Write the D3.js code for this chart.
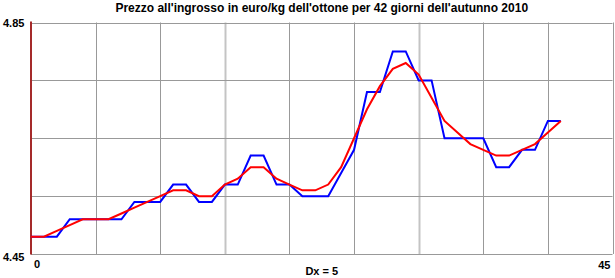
<!DOCTYPE html>
<html>
<head>
<meta charset="utf-8">
<script src="https://cdn.jsdelivr.net/npm/d3@7"></script>
<style>
  body { margin: 0; background: #fff; }
  text { font-family: "Liberation Sans", Arial, sans-serif; font-weight: bold; fill: #000; }
</style>
</head>
<body>
<div id="chart"></div>
<script>
// giorni 0..41
var days = d3.range(0, 42);

// prezzo giornaliero (blu)
var prezzo = [4.48, 4.48, 4.48, 4.51, 4.51, 4.51, 4.51, 4.51, 4.54, 4.54,
    4.54, 4.57, 4.57, 4.54, 4.54, 4.57, 4.57, 4.62, 4.62, 4.57,
    4.57, 4.55, 4.55, 4.55, 4.59, 4.63, 4.73, 4.73, 4.80, 4.80,
    4.75, 4.75, 4.65, 4.65, 4.65, 4.65, 4.60, 4.60, 4.63, 4.63,
    4.68, 4.68];

// media mobile (rosso)
var media = [4.48, 4.48, 4.49, 4.50, 4.51, 4.51, 4.51, 4.52, 4.53, 4.54,
    4.55, 4.56, 4.56, 4.55, 4.55, 4.57, 4.58, 4.60, 4.60, 4.58,
    4.57, 4.56, 4.56, 4.57, 4.60, 4.65, 4.70, 4.74, 4.77, 4.78,
    4.76, 4.72, 4.68, 4.66, 4.64, 4.63, 4.62, 4.62, 4.63, 4.64,
    4.66, 4.68];

var xTicks = [0, 5, 10, 15, 20, 25, 30, 35, 40, 45];
var yTicks = [4.45, 4.55, 4.65, 4.75, 4.85];
var lightX = [15, 30];

var title = "Prezzo all'ingrosso in euro/kg dell'ottone per 42 giorni dell'autunno 2010";

var width = 615, height = 278;
var margin = {left: 31, right: 2.5, top: 22.5, bottom: 24};

var svg = d3.select("#chart").append("svg")
    .attr("width", width)
    .attr("height", height);

var x = d3.scaleLinear()
    .domain([0, 45])
    .range([margin.left, width - margin.right]);

var y = d3.scaleLinear()
    .domain([4.45, 4.85])
    .range([height - margin.bottom, margin.top]);

// griglia
var grid = svg.append("g");
grid.selectAll("line.v")
    .data(xTicks.slice(1))
    .enter()
    .append("line")
    .attr("x1", function (d) { return Math.round(x(d)) + 0.5; })
    .attr("x2", function (d) { return Math.round(x(d)) + 0.5; })
    .attr("y1", y(4.85))
    .attr("y2", y(4.45))
    .style("stroke", function (d) { return lightX.indexOf(d) >= 0 ? "#c4c4c4" : "#999"; })
    .style("stroke-width", function (d) { return lightX.indexOf(d) >= 0 ? 2 : 1; });

grid.selectAll("line.h")
    .data(yTicks)
    .enter()
    .append("line")
    .attr("x1", x(0))
    .attr("x2", x(45))
    .attr("y1", function (d) { return Math.round(y(d)) + 0.5; })
    .attr("y2", function (d) { return Math.round(y(d)) + 0.5; })
    .style("stroke", "#999")
    .style("stroke-width", 1);

// asse y rosso scuro
svg.append("line")
    .attr("x1", x(0))
    .attr("x2", x(0))
    .attr("y1", y(4.85) - 1)
    .attr("y2", y(4.45) + 0.5)
    .style("stroke", "#a52a2a")
    .style("stroke-width", 2);

var line = d3.line()
    .x(function (d, i) { return x(days[i]); })
    .y(function (d) { return y(d); });

svg.append("path")
    .datum(prezzo)
    .attr("d", line)
    .style("fill", "none")
    .style("stroke", "#0000ff")
    .style("stroke-width", 2);

svg.append("path")
    .datum(media)
    .attr("d", line)
    .style("fill", "none")
    .style("stroke", "#ff0000")
    .style("stroke-width", 2);

// testi
svg.append("text")
    .text(title)
    .attr("x", (x(0) + x(45)) / 2)
    .attr("y", 12)
    .attr("text-anchor", "middle")
    .style("font-size", "12px");

svg.append("text")
    .text("4.85")
    .attr("x", 3)
    .attr("y", y(4.85) + 4)
    .style("font-size", "11px");

svg.append("text")
    .text("4.45")
    .attr("x", 3)
    .attr("y", y(4.45) + 7)
    .style("font-size", "11px");

svg.append("text")
    .text("0")
    .attr("x", x(0) + 3)
    .attr("y", 268)
    .style("font-size", "11px");

svg.append("text")
    .text("45")
    .attr("x", x(45) - 2)
    .attr("y", 269)
    .attr("text-anchor", "end")
    .style("font-size", "11px");

svg.append("text")
    .text("Dx = 5")
    .attr("x", (x(0) + x(45)) / 2)
    .attr("y", 275)
    .attr("text-anchor", "middle")
    .style("font-size", "11px");
</script>
</body>
</html>
